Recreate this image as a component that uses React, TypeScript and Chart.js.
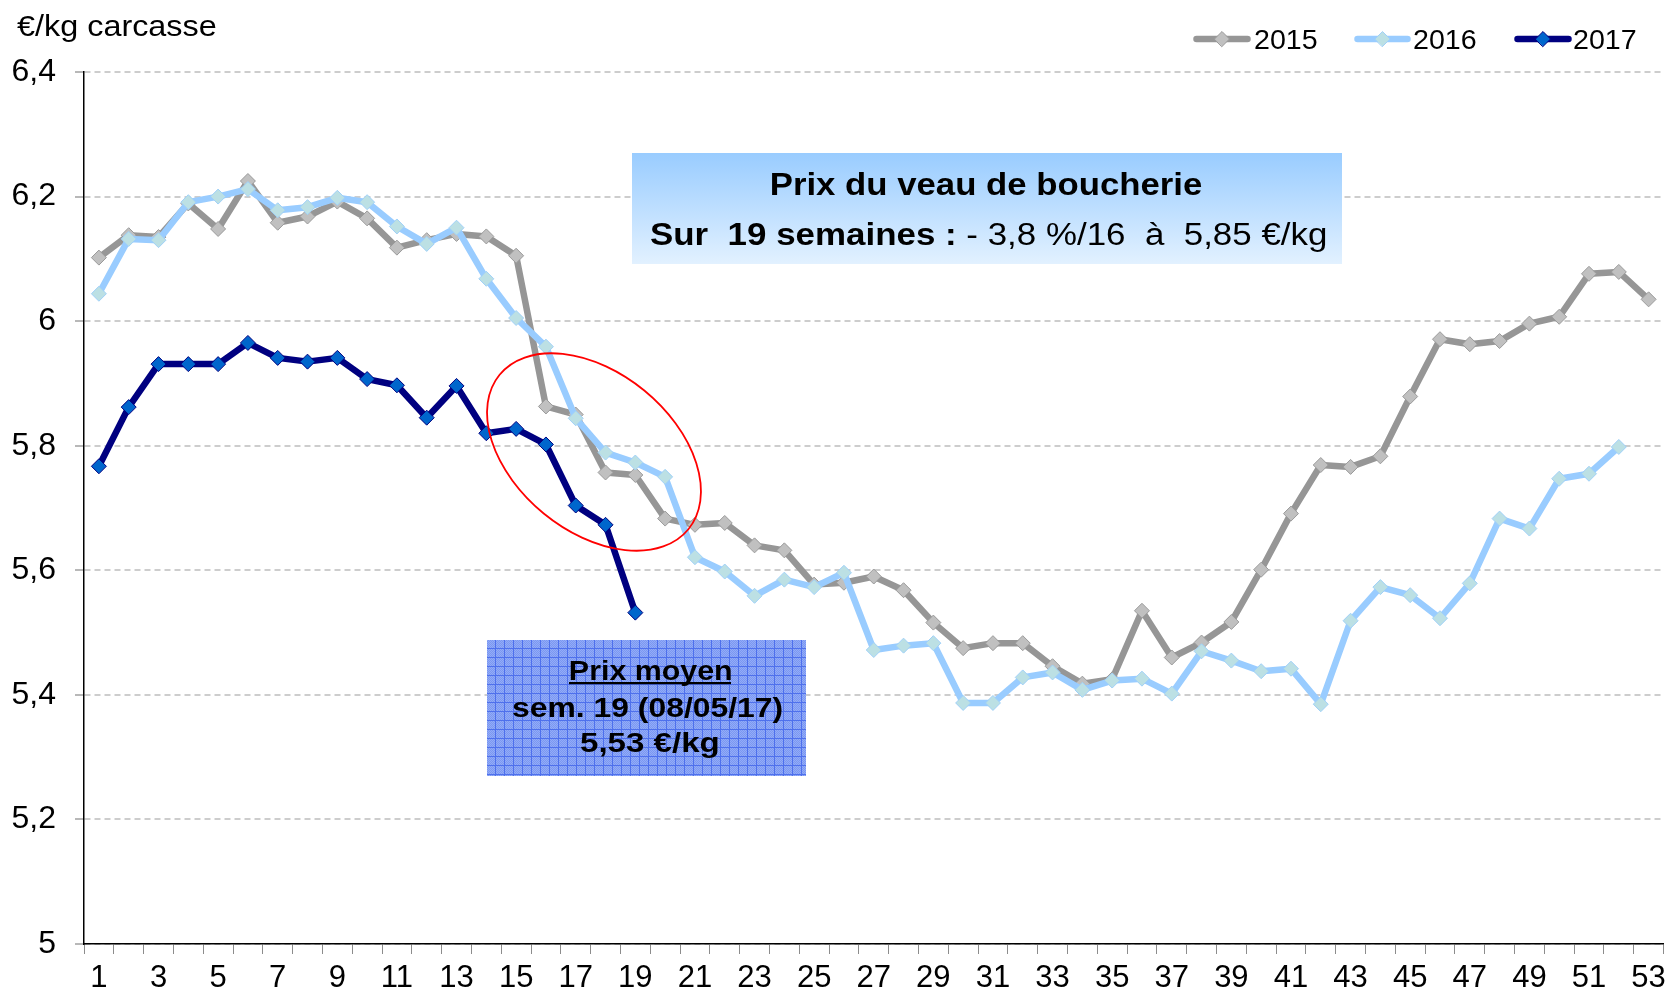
import React, { useEffect, useRef } from 'react';
import { Chart, registerables } from 'chart.js';

Chart.register(...registerables);

const FONT = '"Liberation Sans", Arial, Helvetica, sans-serif';

const weeks = ['1', '2', '3', '4', '5', '6', '7', '8', '9', '10', '11', '12', '13', '14', '15', '16', '17', '18', '19', '20', '21', '22', '23', '24', '25', '26', '27', '28', '29', '30', '31', '32', '33', '34', '35', '36', '37', '38', '39', '40', '41', '42', '43', '44', '45', '46', '47', '48', '49', '50', '51', '52', '53'];

const prix2015 = [6.102, 6.138, 6.135, 6.189, 6.148, 6.225, 6.158, 6.168, 6.192, 6.165, 6.118, 6.130, 6.140, 6.136, 6.105, 5.863, 5.850, 5.757, 5.753, 5.683, 5.673, 5.676, 5.640, 5.632, 5.577, 5.580, 5.590, 5.568, 5.516, 5.475, 5.483, 5.483, 5.446, 5.418, 5.425, 5.535, 5.460, 5.484, 5.517, 5.601, 5.691, 5.769, 5.766, 5.783, 5.879, 5.971, 5.963, 5.968, 5.996, 6.007, 6.076, 6.079, 6.035];

const prix2016 = [6.044, 6.132, 6.130, 6.191, 6.200, 6.212, 6.178, 6.183, 6.198, 6.191, 6.152, 6.124, 6.150, 6.068, 6.005, 5.959, 5.844, 5.789, 5.773, 5.750, 5.621, 5.598, 5.559, 5.585, 5.573, 5.596, 5.472, 5.479, 5.483, 5.387, 5.387, 5.428, 5.436, 5.408, 5.423, 5.426, 5.402, 5.470, 5.455, 5.438, 5.442, 5.385, 5.519, 5.573, 5.560, 5.523, 5.579, 5.683, 5.667, 5.747, 5.755, 5.798];

const prix2017 = [5.767, 5.862, 5.931, 5.931, 5.931, 5.965, 5.941, 5.935, 5.941, 5.907, 5.897, 5.845, 5.896, 5.820, 5.827, 5.802, 5.704, 5.673, 5.532];

const seriesLabels = ['2015', '2016', '2017'];
const yMin = 5;
const yMax = 6.4;
const yStep = 0.2;

const unitTitle = '€/kg carcasse';
const boxTitle = 'Prix du veau de boucherie';
const boxLineBold = 'Sur  19 semaines : ';
const boxLineNormal = '- 3,8 %/16  à  5,85 €/kg';
const noteLines = ['Prix moyen', 'sem. 19 (08/05/17)', '5,53 €/kg'];

const styles = [
  { line: '#969696', fill: '#C0C0C0', border: '#9A9A9A' },
  { line: '#99CCFF', fill: '#BCE0E4', border: '#9FD0F8' },
  { line: '#000080', fill: '#0066CC', border: '#000080' },
];

type Run = { text: string; font: string };

function drawRuns(ctx: CanvasRenderingContext2D, runs: Run[], left: number, baseline: number, width: number) {
  ctx.textAlign = 'left';
  ctx.textBaseline = 'alphabetic';
  const ms = runs.map((r) => {
    ctx.font = r.font;
    return ctx.measureText(r.text);
  });
  let adv = 0;
  for (let i = 0; i < ms.length - 1; i++) adv += ms[i].width;
  const first = ms[0];
  const last = ms[ms.length - 1];
  const ink = first.actualBoundingBoxLeft + adv + last.actualBoundingBoxRight;
  const sx = width / ink;
  let x = left + first.actualBoundingBoxLeft * sx;
  runs.forEach((r, i) => {
    ctx.save();
    ctx.font = r.font;
    ctx.translate(x, baseline);
    ctx.scale(sx, 1);
    ctx.fillText(r.text, 0, 0);
    ctx.restore();
    x += ms[i].width * sx;
  });
}

function diamond(ctx: CanvasRenderingContext2D, x: number, y: number, r: number, fill: string, stroke: string) {
  ctx.beginPath();
  ctx.moveTo(x - r, y);
  ctx.lineTo(x, y - r);
  ctx.lineTo(x + r, y);
  ctx.lineTo(x, y + r);
  ctx.closePath();
  ctx.fillStyle = fill;
  ctx.fill();
  ctx.lineWidth = 1;
  ctx.strokeStyle = stroke;
  ctx.stroke();
}

function makePattern(ctx: CanvasRenderingContext2D) {
  const tile = document.createElement('canvas');
  tile.width = 9;
  tile.height = 9;
  const t = tile.getContext('2d')!;
  t.fillStyle = '#7A97F3';
  t.fillRect(0, 0, 9, 9);
  t.fillStyle = '#93ACF6';
  for (let i = 0; i < 9; i++) for (let j = 0; j < 9; j++) if ((i + j) % 2 === 0) t.fillRect(i, j, 1, 1);
  t.fillStyle = '#4E70EC';
  t.fillRect(0, 0, 9, 1);
  t.fillRect(0, 0, 1, 9);
  return ctx.createPattern(tile, 'repeat');
}

const decorations = {
  id: 'decorations',
  afterDraw(chart: any) {
    const ctx: CanvasRenderingContext2D = chart.ctx;
    ctx.save();
    ctx.fillStyle = '#000';

    // unit title
    drawRuns(ctx, [{ text: unitTitle, font: `30px ${FONT}` }], 17, 36, 199);

    // legend
    const legendPos = [
      { x1: 1193, x2: 1251, tx: 1254 },
      { x1: 1354, x2: 1411, tx: 1413 },
      { x1: 1514, x2: 1572, tx: 1573 },
    ];
    legendPos.forEach((p, i) => {
      const s = styles[i];
      ctx.beginPath();
      ctx.lineCap = 'round';
      ctx.lineWidth = 6.5;
      ctx.strokeStyle = s.line;
      ctx.moveTo(p.x1 + 3.5, 39);
      ctx.lineTo(p.x2 - 3.5, 39);
      ctx.stroke();
      diamond(ctx, (p.x1 + p.x2) / 2, 39, 7.5, s.fill, s.border);
      ctx.fillStyle = '#000';
      drawRuns(ctx, [{ text: seriesLabels[i], font: `28px ${FONT}` }], p.tx + 1, 48.5, 62);
    });

    // headline box
    const g = ctx.createLinearGradient(0, 153, 0, 264);
    g.addColorStop(0, '#99CCFF');
    g.addColorStop(1, '#E2F1FF');
    ctx.fillStyle = g;
    ctx.fillRect(632, 153, 710, 111);
    ctx.fillStyle = '#000';
    drawRuns(ctx, [{ text: boxTitle, font: `bold 31px ${FONT}` }], 772, 195, 430);
    drawRuns(
      ctx,
      [
        { text: boxLineBold, font: `bold 31px ${FONT}` },
        { text: boxLineNormal, font: `31px ${FONT}` },
      ],
      650,
      245,
      676,
    );

    // note box
    const pat = makePattern(ctx);
    ctx.fillStyle = pat || '#7E9CF2';
    ctx.fillRect(487, 640, 319, 136);
    ctx.fillStyle = '#000';
    drawRuns(ctx, [{ text: noteLines[0], font: `bold 27px ${FONT}` }], 570, 680, 161);
    ctx.fillRect(569, 682, 162, 2.2);
    drawRuns(ctx, [{ text: noteLines[1], font: `bold 27px ${FONT}` }], 512, 717, 270);
    drawRuns(ctx, [{ text: noteLines[2], font: `bold 27px ${FONT}` }], 580, 752, 138);

    // red ellipse
    ctx.beginPath();
    ctx.ellipse(594, 452, 122, 79.4, (39.3 * Math.PI) / 180, 0, Math.PI * 2);
    ctx.strokeStyle = '#FF0000';
    ctx.lineWidth = 1.8;
    ctx.stroke();

    ctx.restore();
  },
};

export default function App() {
  const ref = useRef<HTMLCanvasElement>(null);

  useEffect(() => {
    const series = [prix2015, prix2016, prix2017];
    const chart = new Chart(ref.current!, {
      type: 'line',
      data: {
        labels: weeks,
        datasets: series.map((d, i) => ({
          label: seriesLabels[i],
          data: d,
          borderColor: styles[i].line,
          backgroundColor: styles[i].fill,
          borderWidth: 6.5,
          borderJoinStyle: 'round',
          borderCapStyle: 'round',
          tension: 0,
          fill: false,
          pointStyle: 'rectRot',
          pointRadius: 7.5,
          pointBackgroundColor: styles[i].fill,
          pointBorderColor: styles[i].border,
          pointBorderWidth: 1,
          order: 3 - i,
        })),
      },
      options: {
        responsive: false,
        animation: false,
        events: [],
        layout: { padding: { top: 72, right: 6, left: 0, bottom: 0 } },
        plugins: {
          legend: { display: false },
          title: { display: false },
          tooltip: { enabled: false },
        },
        scales: {
          x: {
            offset: true,
            afterFit: (s: any) => {
              s.height = 52;
            },
            grid: {
              offset: true,
              drawOnChartArea: false,
              drawTicks: true,
              tickLength: 10,
              tickColor: '#8C8C8C',
              lineWidth: 1,
            },
            border: { display: true, color: '#000', width: 1.5 },
            ticks: {
              autoSkip: false,
              maxRotation: 0,
              minRotation: 0,
              padding: 6,
              color: '#000',
              font: { family: FONT, size: 31 },
              callback: (_v: any, i: number) => (i % 2 === 0 ? weeks[i] : ''),
            },
          },
          y: {
            min: yMin,
            max: yMax,
            afterFit: (s: any) => {
              s.width = 84;
            },
            grid: {
              color: '#CDCDCD',
              lineWidth: 2,
              drawTicks: true,
              tickLength: 9,
              tickColor: '#A0A0A0',
              tickBorderDash: [],
              tickWidth: 1.5,
            },
            border: { display: true, color: '#000', width: 1.5, dash: [6, 4] },
            ticks: {
              stepSize: yStep,
              padding: 19,
              color: '#000',
              font: { family: FONT, size: 32 },
              callback: (v: any) => String(Math.round(Number(v) * 10) / 10).replace('.', ','),
            },
          },
        },
      },
      plugins: [decorations],
    } as any);
    return () => chart.destroy();
  }, []);

  return (
    <div style={{ position: 'absolute', left: 0, top: 0, width: 1672, height: 996, background: '#fff' }}>
      <canvas ref={ref} width={1672} height={996} style={{ display: 'block', width: 1672, height: 996 }} />
    </div>
  );
}
